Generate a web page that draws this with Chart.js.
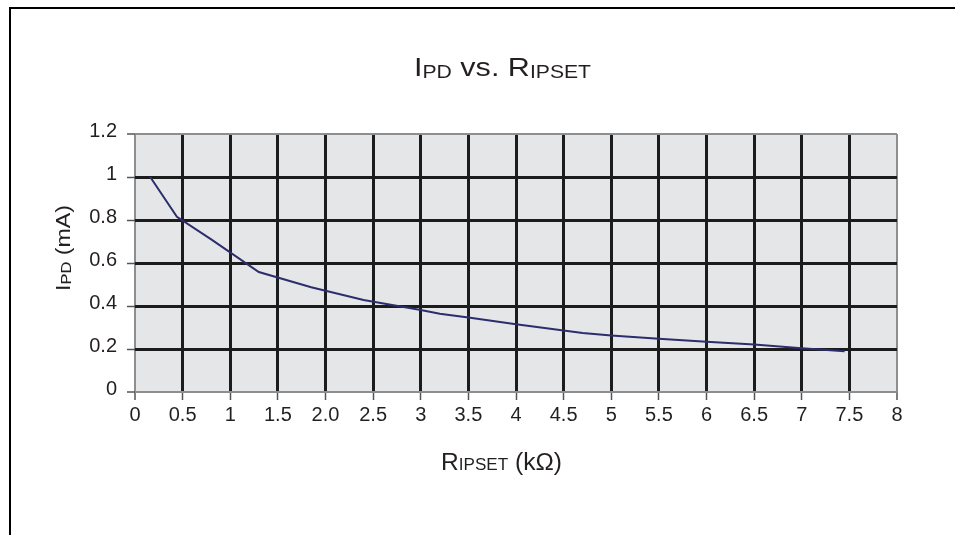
<!DOCTYPE html>
<html><head><meta charset="utf-8">
<script src="https://cdn.jsdelivr.net/npm/chart.js@4/dist/chart.umd.min.js"></script>
<style>
html,body{margin:0;padding:0;width:955px;height:535px;overflow:hidden;background:#fff;}
#frame{position:absolute;left:9px;top:7px;width:1000px;height:600px;border:2px solid #000;box-sizing:border-box;}
#c{position:absolute;left:0;top:0;}
</style></head><body>
<div id="frame"></div>
<canvas id="c" width="955" height="535"></canvas>
<script>
// ---- data ----
const xValues = [0.16, 0.44, 0.8, 1.3, 1.85, 2.4, 3.0, 3.2, 3.5, 4.0, 4.5, 4.7, 5.0, 5.5, 6.0, 6.5, 7.0, 7.45];
const yValues = [1.0, 0.815, 0.71, 0.558, 0.487, 0.428, 0.381, 0.364, 0.346, 0.315, 0.286, 0.274, 0.263, 0.248, 0.234, 0.221, 0.203, 0.19];
const xTickLabels = ['0','0.5','1','1.5','2.0','2.5','3','3.5','4','4.5','5','5.5','6','6.5','7','7.5','8'];
const yTickLabels = ['0','0.2','0.4','0.6','0.8','1','1.2'];
const titleParts = [['I',0],['PD',1],[' vs. R',0],['IPSET',1]];
const xTitleParts = [['R',0],['IPSET',1],[' (k\u03A9)',0]];
const yTitleParts = [['I',0],['PD',1],[' (mA)',0]];

const FONT = '"Liberation Sans", Arial, Helvetica, sans-serif';
const TEXT = '#231f20';
const GRID = '#1c1c1c';
const EDGE = '#8e8e8e';

function drawRich(ctx, parts, x, y, mainSize, subSize, subDrop, targetW, rotate) {
  ctx.save();
  let W = 0;
  const widths = parts.map(([t, s]) => {
    ctx.font = (s ? subSize : mainSize) + 'px ' + FONT;
    const w = ctx.measureText(t).width; W += w; return w;
  });
  const sx = targetW / W;
  ctx.translate(x, y);
  if (rotate) ctx.rotate(-Math.PI / 2);
  ctx.scale(sx, 1);
  ctx.fillStyle = TEXT;
  ctx.textAlign = 'left';
  ctx.textBaseline = 'alphabetic';
  let cx = 0;
  parts.forEach(([t, s], i) => {
    ctx.font = (s ? subSize : mainSize) + 'px ' + FONT;
    ctx.fillText(t, cx, s ? subDrop : 0);
    cx += widths[i];
  });
  ctx.restore();
}

const bgPlugin = {
  id: 'bg',
  beforeDraw(chart) {
    const {ctx, chartArea: a} = chart;
    ctx.save();
    ctx.fillStyle = '#e5e6e8';
    ctx.fillRect(a.left, a.top, a.right - a.left, a.bottom - a.top);
    ctx.restore();
  },
  afterDraw(chart) {
    const ctx = chart.ctx;
    drawRich(ctx, titleParts, 414, 76, 26, 18, 2, 177, false);
    drawRich(ctx, xTitleParts, 441, 470, 23, 16, 0, 121, false);
    drawRich(ctx, yTitleParts, 70, 291, 21, 15, 1, 86, true);
  }
};

const isEdgeX = v => v < 0.01 || v > 7.99;
const isEdgeY = v => v < 0.01 || v > 1.19;

new Chart(document.getElementById('c'), {
  type: 'line',
  data: {
    datasets: [{
      data: xValues.map((x, i) => ({x, y: yValues[i]})),
      borderColor: '#2c2d6c',
      borderWidth: 2,
      pointRadius: 0,
      fill: false,
      tension: 0
    }]
  },
  options: {
    responsive: false,
    animation: false,
    devicePixelRatio: 1,
    layout: {padding: {top: 134, right: 58, left: 0, bottom: 0}},
    plugins: {legend: {display: false}, title: {display: false}, tooltip: {enabled: false}},
    scales: {
      x: {
        type: 'linear', min: 0, max: 8,
        afterFit: s => { s.height = 143; },
        border: {display: false},
        grid: {
          color: c => isEdgeX(c.tick.value) ? EDGE : GRID,
          lineWidth: c => isEdgeX(c.tick.value) ? 2 : 3,
          tickColor: '#555', tickLength: 8, tickWidth: 1.5
        },
        ticks: {
          stepSize: 0.5, autoSkip: false, maxRotation: 0, padding: 3,
          color: TEXT, font: {family: FONT, size: 20},
          callback: (v, i) => xTickLabels[i]
        }
      },
      y: {
        type: 'linear', min: 0, max: 1.2,
        afterFit: s => { s.width = 135; },
        border: {display: false},
        grid: {
          color: c => isEdgeY(c.tick.value) ? EDGE : GRID,
          lineWidth: c => isEdgeY(c.tick.value) ? 2 : 3,
          tickColor: '#555', tickLength: 8, tickWidth: 1.5
        },
        ticks: {
          stepSize: 0.2, padding: 10, labelOffset: -3,
          color: TEXT, font: {family: FONT, size: 20},
          callback: (v, i) => yTickLabels[i]
        }
      }
    }
  },
  plugins: [bgPlugin]
});
</script>
</body></html>
